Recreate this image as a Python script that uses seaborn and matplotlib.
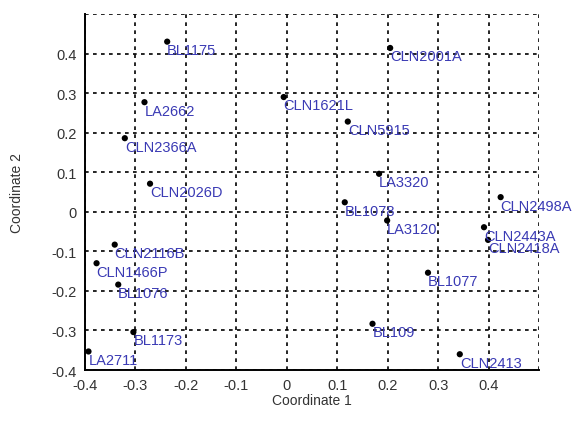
import matplotlib
matplotlib.use("Agg")
import matplotlib.pyplot as plt
import seaborn as sns
import pandas as pd

names = ["BL1175", "CLN2001A", "LA2662", "CLN1621L", "CLN5915", "CLN2366A",
         "LA3320", "CLN2026D", "CLN2498A", "BL1078", "LA3120", "CLN2443A",
         "CLN2418A", "CLN2116B", "CLN1466P", "BL1077", "BL1076", "BL109",
         "BL1173", "LA2711", "CLN2413"]
coord1 = [-0.237, 0.205, -0.282, -0.006, 0.121, -0.321,
          0.183, -0.271, 0.424, 0.115, 0.199, 0.391,
          0.399, -0.341, -0.377, 0.280, -0.334, 0.170,
          -0.304, -0.393, 0.343]
coord2 = [0.430, 0.414, 0.277, 0.290, 0.228, 0.186,
          0.096, 0.071, 0.037, 0.024, -0.022, -0.039,
          -0.071, -0.083, -0.130, -0.154, -0.184, -0.283,
          -0.304, -0.353, -0.360]
tick_vals = [-0.4, -0.3, -0.2, -0.1, 0, 0.1, 0.2, 0.3, 0.4]
tick_labels = ["-0.4", "-0.3", "-0.2", "-0.1", "0", "0.1", "0.2", "0.3", "0.4"]

df = pd.DataFrame({"name": names, "c1": coord1, "c2": coord2})

sns.set_style("white")
plt.rcParams["font.family"] = ["Liberation Sans", "DejaVu Sans"]

fig = plt.figure(figsize=(5.74, 4.27), dpi=100)
ax = fig.add_axes([0.148, 0.131, 0.791, 0.834])

sns.scatterplot(data=df, x="c1", y="c2", ax=ax, color="black", s=20,
                edgecolor="none", zorder=3)

for _, r in df.iterrows():
    ax.annotate(r["name"], (r["c1"], r["c2"]), xytext=(0, -1.0),
                textcoords="offset points", ha="left", va="top",
                fontsize=10.5, color="#3a3ab4", zorder=4)

ax.set_xlim(-0.4, 0.5)
ax.set_ylim(-0.4, 0.5)
ax.set_xticks(tick_vals)
ax.set_xticklabels(tick_labels)
ax.set_yticks(tick_vals)
ax.set_yticklabels(tick_labels)
ax.tick_params(direction="inout", length=9, width=1.2, colors="black",
               labelsize=10.5, labelcolor="#333333", pad=1.5)

grid_style = dict(color="black", linestyle=(0, (2.2, 2.6)), linewidth=1.2)
ax.set_xticks([0.5], minor=True)
ax.set_yticks([0.5], minor=True)
ax.tick_params(which="minor", length=0)
ax.grid(True, which="both", **grid_style)
ax.set_axisbelow(True)

for side in ["left", "bottom"]:
    ax.spines[side].set_color("black")
    ax.spines[side].set_linewidth(1.4)
for side in ["top", "right"]:
    ax.spines[side].set_visible(False)

ax.set_xlabel("Coordinate 1", fontsize=10, color="#333333")
ax.set_ylabel("Coordinate 2", fontsize=10, color="#333333")
ax.xaxis.set_label_coords(0.5, -0.065)
ax.yaxis.set_label_coords(-0.135, 0.5)

fig.savefig("out.png", dpi=100, facecolor="white")
